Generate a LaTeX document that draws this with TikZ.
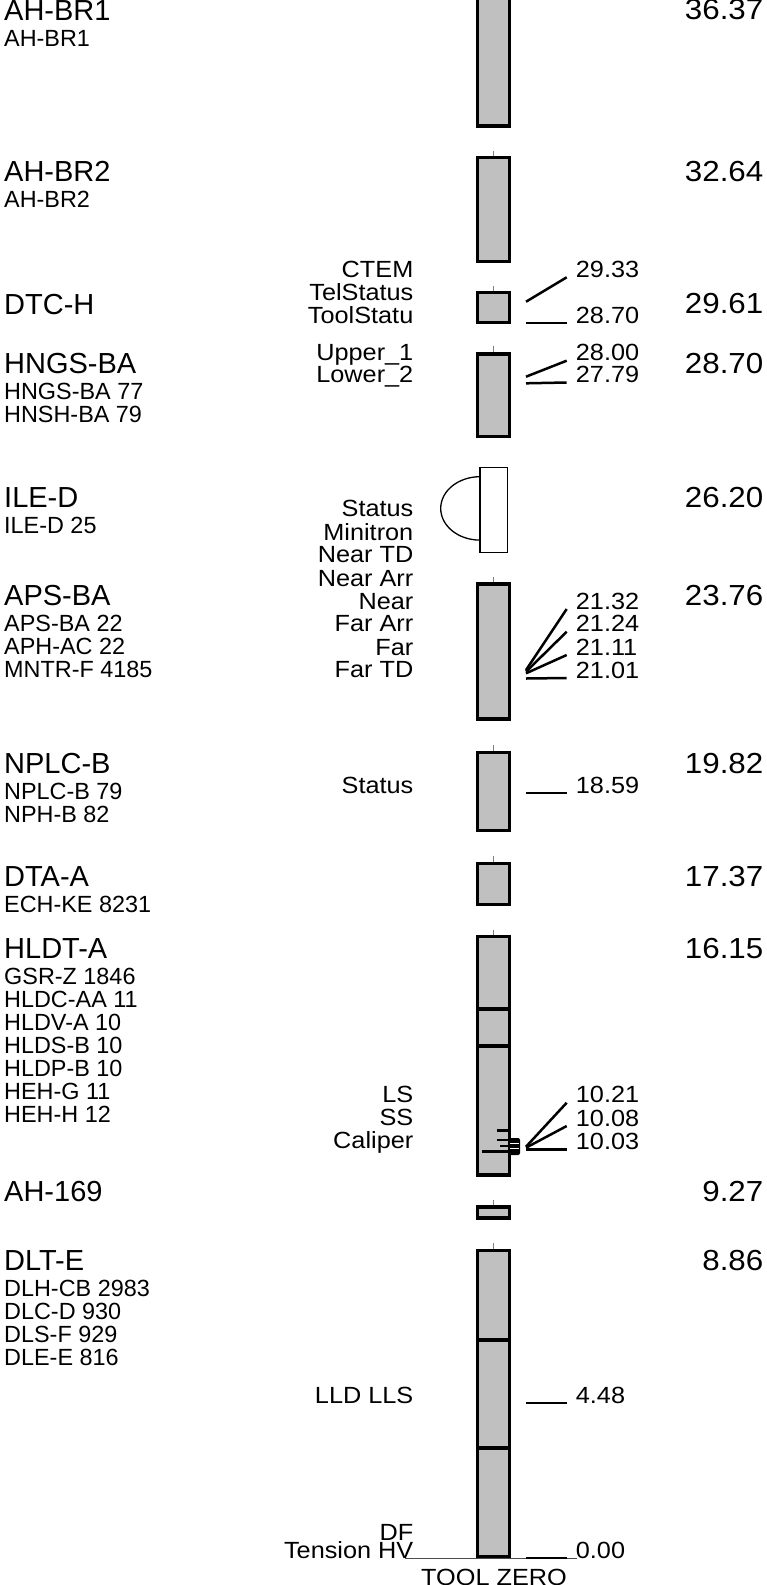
\documentclass[tikz,border=0pt]{standalone}
\usepackage{fontspec}
\setmainfont{Liberation Sans}
\newfontfamily\widesans[FakeStretch=1.08]{Liberation Sans}
\usepackage{tikz}
\definecolor{toolgray}{RGB}{192,192,192}
\tikzset{
  toolbox/.style={draw, line width=3.2pt, fill=toolgray},
  sondebox/.style={draw, line width=1.3pt, fill=white},
  tick/.style={draw=gray, line width=0.9pt},
  marker/.style={line width=2.5pt},
  zeroline/.style={draw=black!70, line width=1pt},
  toolname/.style={font=\fontsize{29}{29}\selectfont, anchor=base west, inner sep=0pt},
  subname/.style={font=\fontsize{23.4}{23}\selectfont, anchor=base west, inner sep=0pt},
  topdepth/.style={font=\widesans\fontsize{29}{29}\selectfont, anchor=base east, inner sep=0pt},
  curvename/.style={font=\widesans\fontsize{23.4}{23}\selectfont, anchor=base east, inner sep=0pt},
  depthlabel/.style={font=\widesans\fontsize{23.4}{23}\selectfont, anchor=base west, inner xsep=9pt, inner ysep=0pt}
}
\begin{document}
\begin{tikzpicture}[x=1pt,y=-1pt]
\useasboundingbox (0,0) rectangle (767,1585);
% tool string
\draw[zeroline] (405,1558) -- (577,1558);
\draw[toolbox] (477.7,-10) rectangle (509.3,126);
\draw[tick] (493.5,150.5) -- (493.5,156);
\draw[toolbox] (477.7,157.7) rectangle (509.3,261.7);
\draw[tick] (493.5,285.5) -- (493.5,290.5);
\draw[toolbox] (477.7,292.3) rectangle (509.3,322.4);
\draw[tick] (493.5,346) -- (493.5,352.5);
\draw[toolbox] (477.7,354) rectangle (509.3,436.5);
\draw[sondebox] (480,467.3) rectangle (507.3,552.7);
\draw[line width=1.3pt] (480,476.7) arc[start angle=90, end angle=270, x radius=39.3pt, y radius=31.7pt];
\draw[tick] (493.5,576.5) -- (493.5,582.5);
\draw[toolbox] (477.7,584) rectangle (509.3,719);
\draw[tick] (493.5,745) -- (493.5,751);
\draw[toolbox] (477.7,752.5) rectangle (509.3,830.5);
\draw[tick] (493.5,856) -- (493.5,862);
\draw[toolbox] (477.7,863.5) rectangle (509.3,904.5);
\draw[tick] (493.5,929.5) -- (493.5,935);
\draw[toolbox] (477.7,936.5) rectangle (509.3,1175);
\draw[line width=3.2pt] (477.7,1009) -- (509.3,1009);
\draw[line width=3.2pt] (477.7,1046) -- (509.3,1046);
\draw[tick] (493.5,1199.5) -- (493.5,1205.5);
\draw[toolbox] (477.7,1207) rectangle (509.3,1218);
\draw[tick] (493.5,1243) -- (493.5,1249);
\draw[toolbox] (477.7,1250.5) rectangle (509.3,1556.5);
\draw[line width=3.2pt] (477.7,1340) -- (509.3,1340);
\draw[line width=3.2pt] (477.7,1448) -- (509.3,1448);
% caliper arms
\draw[marker] (496.7,1130.5) -- (510,1130.5);
\draw[marker] (497,1140) -- (510,1140);
\draw[marker] (500,1146) -- (510,1146);
\draw[marker] (482,1151.5) -- (510,1151.5);
\fill[black, rounded corners=2pt] (508,1138) rectangle (520,1155);
\draw[white, line width=0.6pt] (510,1143) -- (518.5,1143);
\draw[white, line width=0.6pt] (510,1148.5) -- (518.5,1148.5);
% tool names
\node[toolname] (ahbr1) at (4,20) {AH-BR1};
\node[subname] (ahbr1a) at (4,46.5) {AH-BR1};
\node[toolname] (ahbr2) at (4,181) {AH-BR2};
\node[subname] (ahbr2a) at (4,207.5) {AH-BR2};
\node[toolname] (dtch) at (4,314) {DTC-H};
\node[toolname] (hngsba) at (4,373) {HNGS-BA};
\node[subname] (hngsbaa) at (4,399.5) {HNGS-BA 77};
\node[subname] (hngsbab) at (4,422.5) {HNSH-BA 79};
\node[toolname] (iled) at (4,507) {ILE-D};
\node[subname] (ileda) at (4,533.5) {ILE-D 25};
\node[toolname] (apsba) at (4,605) {APS-BA};
\node[subname] (apsbaa) at (4,631.5) {APS-BA 22};
\node[subname] (apsbab) at (4,654.5) {APH-AC 22};
\node[subname] (apsbac) at (4,677.5) {MNTR-F 4185};
\node[toolname] (nplcb) at (4,773) {NPLC-B};
\node[subname] (nplcba) at (4,799.5) {NPLC-B 79};
\node[subname] (nplcbb) at (4,822.5) {NPH-B 82};
\node[toolname] (dtaa) at (4,886) {DTA-A};
\node[subname] (dtaaa) at (4,912.5) {ECH-KE 8231};
\node[toolname] (hldta) at (4,958) {HLDT-A};
\node[subname] (hldtaa) at (4,984.5) {GSR-Z 1846};
\node[subname] (hldtab) at (4,1007.5) {HLDC-AA 11};
\node[subname] (hldtac) at (4,1030.5) {HLDV-A 10};
\node[subname] (hldtad) at (4,1053.5) {HLDS-B 10};
\node[subname] (hldtae) at (4,1076.5) {HLDP-B 10};
\node[subname] (hldtaf) at (4,1099.5) {HEH-G 11};
\node[subname] (hldtag) at (4,1122.5) {HEH-H 12};
\node[toolname] (ah169) at (4,1201) {AH-169};
\node[toolname] (dlte) at (4,1270) {DLT-E};
\node[subname] (dltea) at (4,1296.5) {DLH-CB 2983};
\node[subname] (dlteb) at (4,1319.5) {DLC-D 930};
\node[subname] (dltec) at (4,1342.5) {DLS-F 929};
\node[subname] (dlted) at (4,1365.5) {DLE-E 816};
% tool top depths
\node[topdepth] (t3637) at (763.5,19) {36.37};
\node[topdepth] (t3264) at (763.5,181) {32.64};
\node[topdepth] (t2961) at (763.5,313.5) {29.61};
\node[topdepth] (t2870) at (763.5,373) {28.70};
\node[topdepth] (t2620) at (763.5,507) {26.20};
\node[topdepth] (t2376) at (763.5,605) {23.76};
\node[topdepth] (t1982) at (763.5,773) {19.82};
\node[topdepth] (t1737) at (763.5,886) {17.37};
\node[topdepth] (t1615) at (763.5,958) {16.15};
\node[topdepth] (t927) at (763.5,1201) {9.27};
\node[topdepth] (t886) at (763.5,1270) {8.86};
% curve names
\node[curvename] (ctem) at (413.5,277.3) {CTEM};
\node[curvename] (telstat) at (413.5,300.5) {TelStatus};
\node[curvename] (toolstat) at (413.5,323.3) {ToolStatu};
\node[curvename] (upper) at (413.5,360.7) {Upper\_1};
\node[curvename] (lower) at (413.5,382) {Lower\_2};
\node[curvename] (ilestat) at (413.5,516.7) {Status};
\node[curvename] (minitron) at (413.5,540) {Minitron};
\node[curvename] (neartd) at (413.5,562.5) {Near TD};
\node[curvename] (neararr) at (413.5,586) {Near Arr};
\node[curvename] (near) at (413.5,609) {Near};
\node[curvename] (fararr) at (413.5,631.7) {Far Arr};
\node[curvename] (far) at (413.5,655) {Far};
\node[curvename] (fartd) at (413.5,677.5) {Far TD};
\node[curvename] (nplcstat) at (413.5,793) {Status};
\node[curvename] (ls) at (413.5,1102.7) {LS};
\node[curvename] (ss) at (413.5,1125.7) {SS};
\node[curvename] (caliper) at (413.5,1148.5) {Caliper};
\node[curvename] (lldlls) at (413.5,1403) {LLD LLS};
\node[curvename] (df) at (413.5,1540) {DF};
\node[curvename] (tension) at (413.5,1558.3) {Tension HV};
\node[font=\widesans\fontsize{23.4}{23}\selectfont, anchor=base, inner sep=0pt] (toolzero) at (494,1585) {TOOL ZERO};
% sensor depths
\coordinate (p2933) at (526,301.7);
\coordinate (p2870) at (526,323);
\coordinate (p2800) at (526,376.7);
\coordinate (p2779) at (526,383.3);
\coordinate (p2132) at (526,670);
\coordinate (p2124) at (526,671.7);
\coordinate (p2111) at (526,673.3);
\coordinate (p2101) at (526,678.5);
\coordinate (p1859) at (526,793);
\coordinate (p1021) at (526,1146.7);
\coordinate (p1008) at (526,1147.7);
\coordinate (p1003) at (526,1149.3);
\coordinate (p448) at (526,1403);
\coordinate (p000) at (526,1558);
\node[depthlabel] (d2933) at (566.7,277.3) {29.33};
\node[depthlabel] (d2870) at (566.7,323) {28.70};
\node[depthlabel] (d2800) at (566.7,360.7) {28.00};
\node[depthlabel] (d2779) at (566.7,382.5) {27.79};
\node[depthlabel] (d2132) at (566.7,609) {21.32};
\node[depthlabel] (d2124) at (566.7,631.7) {21.24};
\node[depthlabel] (d2111) at (566.7,655) {21.11};
\node[depthlabel] (d2101) at (566.7,678) {21.01};
\node[depthlabel] (d1859) at (566.7,793) {18.59};
\node[depthlabel] (d1021) at (566.7,1102.7) {10.21};
\node[depthlabel] (d1008) at (566.7,1126) {10.08};
\node[depthlabel] (d1003) at (566.7,1149.3) {10.03};
\node[depthlabel] (d448) at (566.7,1403) {4.48};
\node[depthlabel] (d000) at (566.7,1558) {0.00};
\draw[marker] (p2933) -- (d2933.base west);
\draw[marker] (p2870) -- (d2870.base west);
\draw[marker] (p2800) -- (d2800.base west);
\draw[marker] (p2779) -- (d2779.base west);
\draw[marker] (p2132) -- (d2132.base west);
\draw[marker] (p2124) -- (d2124.base west);
\draw[marker] (p2111) -- (d2111.base west);
\draw[marker] (p2101) -- (d2101.base west);
\draw[marker] (p1859) -- (d1859.base west);
\draw[marker] (p1021) -- (d1021.base west);
\draw[marker] (p1008) -- (d1008.base west);
\draw[marker] (p1003) -- (d1003.base west);
\draw[marker] (p448) -- (d448.base west);
\draw[marker] (p000) -- (d000.base west);
\end{tikzpicture}
\end{document}
